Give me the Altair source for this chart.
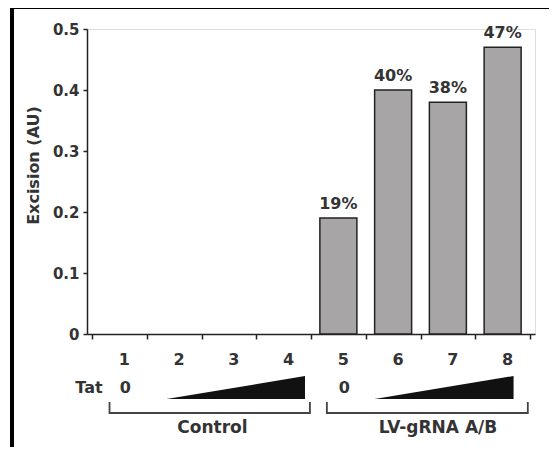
import altair as alt
import pandas as pd

# ---- data ----
lanes = [1, 2, 3, 4, 5, 6, 7, 8]
excision = [0, 0, 0, 0, 0.19, 0.40, 0.38, 0.47]
pct_labels = ["", "", "", "", "19%", "40%", "38%", "47%"]
lane_labels = ["1", "2", "3", "4", "5", "6", "7", "8"]

groups = ["Control", "LV-gRNA A/B"]
tat_zero_lane = [1, 5]
wedge_start = [1.86, 5.66]
wedge_end = [4.39, 8.20]
bracket_start = [0.82, 4.79]
bracket_end = [4.48, 8.46]
group_label_lane = [2.70, 6.82]

FONT = "DejaVu Sans"
TXT = "#333333"
INK = "#222222"

W, H = 448, 305

bars_df = pd.DataFrame({"lane": lanes, "excision": excision, "pct": pct_labels,
                        "lab": lane_labels})

wedge_rows = []
for g, s, e in zip(groups, wedge_start, wedge_end):
    wedge_rows.append({"group": g, "lane": s, "level": 0})
    wedge_rows.append({"group": g, "lane": e, "level": 1})
wedge_df = pd.DataFrame(wedge_rows)

br_rows = []
for g, s, e in zip(groups, bracket_start, bracket_end):
    br_rows += [
        {"group": g, "lane": s, "b": 1, "k": 0},
        {"group": g, "lane": s, "b": 0, "k": 1},
        {"group": g, "lane": e, "b": 0, "k": 2},
        {"group": g, "lane": e, "b": 1, "k": 3},
    ]
br_df = pd.DataFrame(br_rows)

grp_df = pd.DataFrame({"group": groups, "lane": group_label_lane, "zero": tat_zero_lane})

xscale = alt.Scale(domain=[0.5, 8.5], nice=False, zero=False)
xaxis = alt.Axis(values=[0.5, 1.5, 2.5, 3.5, 4.5, 5.5, 6.5, 7.5, 8.5], labels=False,
                 title=None, grid=False, tickSize=5, tickColor=INK, tickWidth=1.5,
                 domainColor=INK, domainWidth=1.5)

base = alt.Chart(bars_df)

bars = base.transform_filter("datum.excision > 0").mark_bar(
    size=37, fill="#a8a5a6", stroke=INK, strokeWidth=1.5
).encode(
    x=alt.X("lane:Q", scale=xscale, axis=xaxis),
    y=alt.Y("excision:Q",
            scale=alt.Scale(domain=[0, 0.5], nice=False),
            axis=alt.Axis(values=[0, 0.1, 0.2, 0.3, 0.4, 0.5],
                          labelExpr="datum.value == 0 ? '0' : format(datum.value, '.1f')",
                          title="Excision (AU)", titleFont=FONT, titleFontSize=16,
                          titleFontWeight="bold", titleColor=TXT, titleAngle=-90,
                          titleX=-54, titleY=136, titleAlign="center",
                          titleBaseline="middle",
                          labelFont=FONT, labelFontSize=15, labelFontWeight="bold",
                          labelColor=TXT, labelPadding=4, tickSize=4, tickColor=INK,
                          tickWidth=1.5, domainColor=INK, domainWidth=1.5, grid=False)),
)

pct = base.transform_filter("datum.excision > 0").mark_text(
    font=FONT, fontSize=16, fontWeight="bold", color=TXT, baseline="middle", dy=-14
).encode(
    x=alt.X("lane:Q", scale=xscale),
    y=alt.Y("excision:Q", scale=alt.Scale(domain=[0, 0.5], nice=False)),
    text="pct:N",
)

top = alt.layer(bars, pct)

wedge = alt.Chart(wedge_df).mark_area(color="#111111").encode(
    x=alt.X("lane:Q", scale=xscale),
    y=alt.Y("level:Q", stack=None, axis=None,
            scale=alt.Scale(domain=[0, 1], range=[370, 347], nice=False)),
    detail="group:N",
)

bracket = alt.Chart(br_df).mark_line(color="#444444", strokeWidth=1.8).encode(
    x=alt.X("lane:Q", scale=xscale),
    y=alt.Y("b:Q", axis=None,
            scale=alt.Scale(domain=[0, 1], range=[384, 373], nice=False)),
    detail="group:N",
    order="k:Q",
)

lane_txt = base.mark_text(
    font=FONT, fontSize=16, fontWeight="bold", color=TXT, baseline="middle", dx=5
).encode(x=alt.X("lane:Q", scale=xscale), y=alt.value(331), text="lab:N")

tat_txt = alt.Chart(pd.DataFrame({"t": ["Tat"]})).mark_text(
    font=FONT, fontSize=16, fontWeight="bold", color=TXT, baseline="middle"
).encode(x=alt.value(2), y=alt.value(359), text="t:N")

zero_txt = alt.Chart(grp_df).transform_calculate(z="'0'").mark_text(
    font=FONT, fontSize=16, fontWeight="bold", color=TXT, baseline="middle", dx=6
).encode(x=alt.X("zero:Q", scale=xscale), y=alt.value(359), text="z:N")

grp_txt = alt.Chart(grp_df).mark_text(
    font=FONT, fontSize=17, fontWeight="bold", color=TXT, baseline="middle"
).encode(x=alt.X("lane:Q", scale=xscale), y=alt.value(399), text="group:N")

frame_top = alt.Chart(pd.DataFrame({"a": [0]})).mark_rule(
    color="black", strokeWidth=4
).encode(x=alt.value(-77), x2=alt.value(470), y=alt.value(-22))

frame_left = alt.Chart(pd.DataFrame({"a": [0]})).mark_rule(
    color="black", strokeWidth=4
).encode(x=alt.value(-75), y=alt.value(-24), y2=alt.value(430))

chart = alt.layer(
    top, wedge, bracket, lane_txt, tat_txt, zero_txt, grp_txt, frame_top, frame_left
).resolve_scale(y="independent").properties(
    width=W, height=H,
    autosize=alt.AutoSizeParams(type="none"),
    padding={"left": 79, "top": 21, "right": 14, "bottom": 113},
).configure_view(stroke=None).configure(background="white")

chart.save("out.html", embed_options={"renderer": "svg", "actions": False})
